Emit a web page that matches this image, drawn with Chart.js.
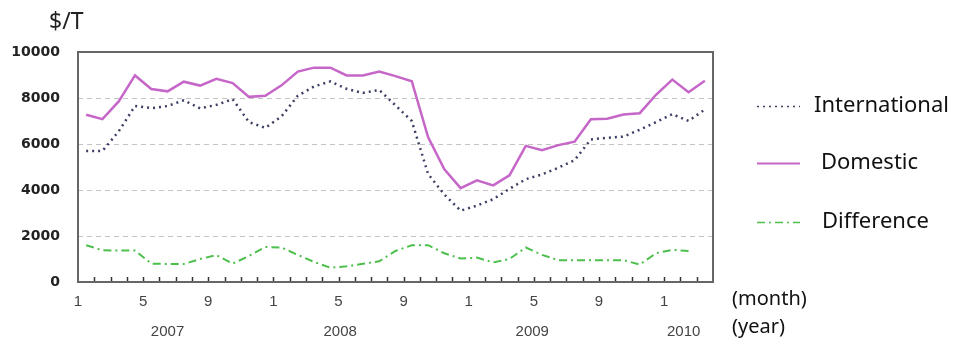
<!DOCTYPE html>
<html>
<head>
<meta charset="utf-8">
<script src="https://cdn.jsdelivr.net/npm/chart.js@4.4.0/dist/chart.umd.min.js"></script>
<style>
    html, body { margin: 0; padding: 0; background: #fff; }
</style>
</head>
<body>
<canvas id="priceChart" width="957" height="345"></canvas>
<script>
// Monthly prices, Jan 2007 - Mar 2010 ($/T)
const months = [
    '2007-01', '2007-02', '2007-03', '2007-04', '2007-05', '2007-06', '2007-07', '2007-08', '2007-09', '2007-10', '2007-11', '2007-12',
    '2008-01', '2008-02', '2008-03', '2008-04', '2008-05', '2008-06', '2008-07', '2008-08', '2008-09', '2008-10', '2008-11', '2008-12',
    '2009-01', '2009-02', '2009-03', '2009-04', '2009-05', '2009-06', '2009-07', '2009-08', '2009-09', '2009-10', '2009-11', '2009-12',
    '2010-01', '2010-02', '2010-03'
];
const international = [
    5700, 5700, 6550, 7650, 7560, 7650, 7900, 7550, 7700, 7950, 6950, 6700,
    7200, 8100, 8500, 8720, 8400, 8220, 8350, 7680, 7000, 4700, 3800, 3100,
    3320, 3600, 4050, 4470, 4680, 4970, 5300, 6200, 6270, 6320, 6620, 6950,
    7300, 7000, 7500
];
const domestic = [
    7270, 7080, 7850, 8980, 8390, 8290, 8710, 8540, 8830, 8650, 8050, 8100,
    8550, 9150, 9320, 9320, 8980, 8980, 9150, 8950, 8730, 6300, 4900, 4080,
    4420, 4200, 4640, 5920, 5730, 5950, 6100, 7080, 7100, 7280, 7340, 8140,
    8800, 8250, 8750
];
const difference = [
    1600, 1380, 1370, 1370, 800, 780, 780, 1000, 1170, 800, 1130, 1520,
    1500, 1180, 870, 620, 680, 790, 900, 1350, 1600, 1600, 1250, 1020,
    1060, 850, 1000, 1500, 1180, 950, 950, 950, 950, 950, 760, 1250,
    1400, 1350, null
];
const monthTicks = ['1', '5', '9', '1', '5', '9', '1', '5', '9', '1'];
const yearTicks = ['2007', '2008', '2009', '2010'];

const FONT = "'Liberation Sans', Arial, sans-serif";
const TEXT_FONT = "'Noto Sans', 'Open Sans', sans-serif";

function toPoints(values) {
    return values.map((v, i) => ({ x: i, y: v }));
}

// where the year captions sit on the month axis
const yearAt = [5, 15.6, 27.4, 36.7];

// frame, inner tick marks, unit text and the legend on the right
const decorPlugin = {
    id: 'decor',
    afterDraw(chart) {
        const ctx = chart.ctx;
        const area = chart.chartArea;
        const xs = chart.scales.x;
        ctx.save();

        // tick marks along the bottom, pointing inward
        ctx.strokeStyle = '#333';
        ctx.lineWidth = 1.5;
        for (let i = 0; i < months.length - 1; i++) {
            const px = Math.round(xs.getPixelForValue(i + 0.5)) + 0.5;
            ctx.beginPath();
            ctx.moveTo(px, area.bottom);
            ctx.lineTo(px, area.bottom - 5);
            ctx.stroke();
        }

        // plot frame
        ctx.strokeStyle = '#666';
        ctx.lineWidth = 2;
        ctx.strokeRect(area.left, area.top, area.right - area.left, area.bottom - area.top);

        // unit
        ctx.fillStyle = '#222';
        ctx.font = '23px ' + TEXT_FONT;
        ctx.textBaseline = 'middle';
        ctx.textAlign = 'left';
        ctx.fillText('$/T', 49, 22);

        // legend
        const rows = [106, 163, 222];
        const textX = [814, 821, 822];
        chart.data.datasets.forEach((ds, i) => {
            const y = rows[i] + 0.5;
            ctx.strokeStyle = ds.borderColor;
            ctx.lineWidth = ds.legendWidth;
            ctx.setLineDash(ds.borderDash || []);
            ctx.beginPath();
            ctx.moveTo(757, y);
            ctx.lineTo(800, y);
            ctx.stroke();
            ctx.setLineDash([]);
            ctx.fillStyle = '#111';
            ctx.font = '22px ' + TEXT_FONT;
            ctx.fillText(ds.label, textX[i], rows[i]);
        });

        // axis captions
        ctx.font = '20px ' + TEXT_FONT;
        ctx.fillStyle = '#111';
        ctx.fillText('(month)', 732, 299);
        ctx.fillText('(year)', 732, 327);
        ctx.restore();
    }
};

const ctx = document.getElementById('priceChart').getContext('2d');
const chart = new Chart(ctx, {
    type: 'line',
    data: {
        datasets: [
            {
                label: 'International',
                data: toPoints(international),
                borderColor: '#3b3f63',
                borderWidth: 2.5,
                borderDash: [2, 4],
                legendWidth: 1.5,
                pointRadius: 0,
                fill: false
            },
            {
                label: 'Domestic',
                data: toPoints(domestic),
                borderColor: '#c566c8',
                borderWidth: 2.5,
                legendWidth: 2,
                pointRadius: 0,
                fill: false
            },
            {
                label: 'Difference',
                data: toPoints(difference),
                borderColor: '#4cbf4c',
                borderWidth: 2,
                borderDash: [8, 4, 2, 4],
                legendWidth: 1.5,
                pointRadius: 0,
                fill: false
            }
        ]
    },
    options: {
        responsive: false,
        animation: false,
        layout: { padding: { top: 52, right: 244, left: 0, bottom: 0 } },
        plugins: {
            legend: { display: false },
            tooltip: { enabled: false }
        },
        scales: {
            x: {
                type: 'linear',
                position: 'bottom',
                weight: 0,
                min: -0.5,
                max: months.length - 0.5,
                grid: { display: false, drawTicks: false },
                border: { display: false },
                afterBuildTicks: scale => {
                    scale.ticks = monthTicks.map((t, k) => ({ value: -0.5 + 4 * k }));
                },
                afterFit: scale => { scale.height = 30; },
                ticks: {
                    autoSkip: false,
                    maxRotation: 0,
                    padding: 11,
                    color: '#444',
                    font: { family: FONT, size: 15 },
                    callback: (value, index) => monthTicks[index]
                }
            },
            x2: {
                type: 'linear',
                position: 'bottom',
                weight: 1,
                min: -0.5,
                max: months.length - 0.5,
                grid: { display: false, drawTicks: false },
                border: { display: false },
                afterBuildTicks: scale => {
                    scale.ticks = yearAt.map(v => ({ value: v }));
                },
                afterFit: scale => { scale.height = 33; },
                ticks: {
                    autoSkip: false,
                    maxRotation: 0,
                    padding: 11,
                    color: '#444',
                    font: { family: FONT, size: 15 },
                    callback: (value, index) => yearTicks[index]
                }
            },
            y: {
                min: 0,
                max: 10000,
                grid: { color: '#c4c4c4', lineWidth: 1, drawTicks: false },
                border: { display: false, dash: [5, 4] },
                afterFit: scale => { scale.width = 78; },
                ticks: {
                    stepSize: 2000,
                    padding: 18,
                    color: '#222',
                    font: { family: "'DejaVu Sans', sans-serif", size: 14, weight: 'bold' },
                    callback: value => String(value)
                }
            }
        }
    },
    plugins: [decorPlugin]
});
</script>
</body>
</html>
